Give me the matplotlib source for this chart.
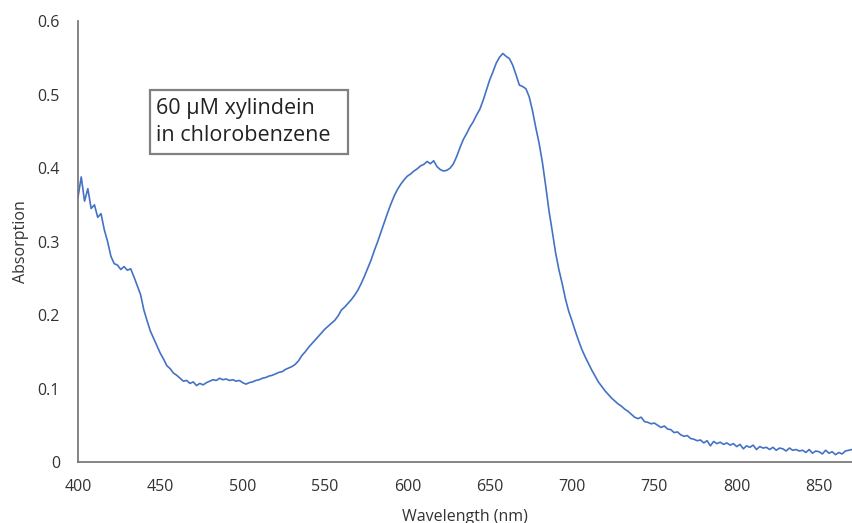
import matplotlib.pyplot as plt
from matplotlib.patches import Rectangle
import numpy as np

# wavelength grid (nm), 2 nm steps
wavelength = np.arange(400, 872, 2)

# absorption, 10 points per 20 nm
absorption = [
    0.360, 0.388, 0.355, 0.372, 0.345, 0.350, 0.333, 0.338, 0.316, 0.300,
    0.280, 0.270, 0.268, 0.262, 0.266, 0.261, 0.263, 0.252, 0.240, 0.228,
    0.207, 0.192, 0.178, 0.168, 0.158, 0.148, 0.140, 0.131, 0.127, 0.121,
    0.118, 0.114, 0.110, 0.111, 0.107, 0.109, 0.104, 0.107, 0.105, 0.108,
    0.110, 0.112, 0.111, 0.114, 0.112, 0.113, 0.111, 0.112, 0.110, 0.111,
    0.108, 0.106, 0.108, 0.109, 0.111, 0.112, 0.114, 0.115, 0.117, 0.118,
    0.120, 0.122, 0.123, 0.126, 0.128, 0.130, 0.133, 0.138, 0.145, 0.150,
    0.156, 0.161, 0.166, 0.171, 0.176, 0.181, 0.185, 0.189, 0.193, 0.199,
    0.207, 0.211, 0.216, 0.221, 0.227, 0.234, 0.243, 0.253, 0.264, 0.275,
    0.288, 0.300, 0.313, 0.326, 0.339, 0.351, 0.362, 0.371, 0.378, 0.384,
    0.389, 0.392, 0.396, 0.399, 0.403, 0.405, 0.409, 0.406, 0.410, 0.402,
    0.398, 0.396, 0.397, 0.400, 0.406, 0.416, 0.428, 0.439, 0.447, 0.456,
    0.463, 0.472, 0.480, 0.492, 0.506, 0.520, 0.531, 0.543, 0.551, 0.556,
    0.552, 0.549, 0.540, 0.527, 0.513, 0.511, 0.508, 0.497, 0.478, 0.455,
    0.434, 0.408, 0.376, 0.342, 0.314, 0.285, 0.262, 0.243, 0.222, 0.205,
    0.192, 0.178, 0.165, 0.153, 0.143, 0.134, 0.125, 0.117, 0.109, 0.103,
    0.097, 0.092, 0.087, 0.083, 0.079, 0.076, 0.072, 0.069, 0.065, 0.061,
    0.059, 0.061, 0.055, 0.054, 0.052, 0.053, 0.050, 0.047, 0.049, 0.045,
    0.044, 0.040, 0.041, 0.037, 0.035, 0.036, 0.032, 0.031, 0.029, 0.030,
    0.026, 0.029, 0.022, 0.028, 0.025, 0.027, 0.024, 0.026, 0.023, 0.025,
    0.021, 0.024, 0.018, 0.022, 0.020, 0.023, 0.017, 0.021, 0.019, 0.020,
    0.017, 0.020, 0.016, 0.019, 0.018, 0.015, 0.019, 0.016, 0.017, 0.015,
    0.016, 0.013, 0.017, 0.012, 0.015, 0.014, 0.011, 0.016, 0.012, 0.014,
    0.010, 0.013, 0.011, 0.015, 0.016, 0.017,
]

x_ticks = [400, 450, 500, 550, 600, 650, 700, 750, 800, 850]
y_ticks = [0, 0.1, 0.2, 0.3, 0.4, 0.5, 0.6]
y_tick_labels = ['0', '0.1', '0.2', '0.3', '0.4', '0.5', '0.6']
note = '60 µM xylindein\nin chlorobenzene'

plt.rcParams['font.family'] = ['Open Sans', 'DejaVu Sans']

fig = plt.figure(figsize=(8.52, 5.23), dpi=100)
ax = fig.add_axes([0.0915, 0.1166, 0.9085, 0.843])

ax.plot(wavelength, absorption, color='#4472C4', linewidth=1.2)

ax.set_xlim(400, 870)
ax.set_ylim(0, 0.6)
ax.set_xticks(x_ticks)
ax.set_yticks(y_ticks)
ax.set_yticklabels(y_tick_labels)
ax.tick_params(length=0, labelsize=11.5, colors='#333333')
ax.tick_params(axis='y', pad=13)
ax.tick_params(axis='x', pad=12)

for side in ['top', 'right']:
    ax.spines[side].set_visible(False)
for side in ['left', 'bottom']:
    ax.spines[side].set_color('#707070')
    ax.spines[side].set_linewidth(1.2)

ax.set_xlabel('Wavelength (nm)', fontsize=11.5, color='#333333', labelpad=10)
ax.set_ylabel('Absorption', fontsize=11.5, color='#333333', labelpad=6)

# text box
ax.add_patch(Rectangle((443.7, 0.419), 120.1, 0.087, transform=ax.transData,
                       facecolor='white', edgecolor='#808080', linewidth=1.6,
                       zorder=3))
ax.text(447.5, 0.4625, note, fontsize=15.5, color='#222222', va='center',
        ha='left', linespacing=1.35, zorder=4)

fig.savefig('out.png', dpi=100)
